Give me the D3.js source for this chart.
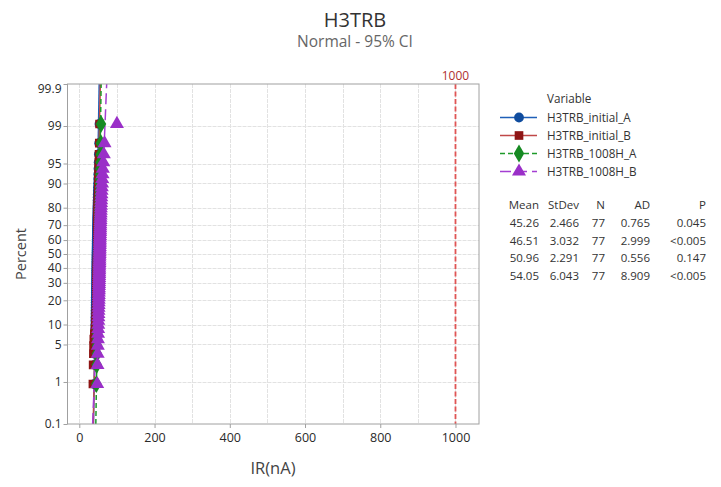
<!DOCTYPE html>
<html><head><meta charset="utf-8">
<script src="https://cdn.jsdelivr.net/npm/d3@7"></script>
<style>
body{margin:0;background:#fff;}
svg{display:block;font-family:"Open Sans","Noto Sans",sans-serif;}
</style></head>
<body><svg id="c" width="721" height="487"></svg>
<script>
const seriesNames = ["H3TRB_initial_A","H3TRB_initial_B","H3TRB_1008H_A","H3TRB_1008H_B"];
const initialA = [39.4,40.3,40.9,41.3,41.6,41.9,42.1,42.4,42.6,42.8,43.0,43.1,43.3,43.4,43.6,43.7,43.8,43.9,44.0,44.2,44.3,44.4,44.5,44.5,44.6,44.7,44.8,44.9,45.0,45.0,45.1,45.2,45.3,45.3,45.4,45.5,45.5,45.6,45.7,45.8,45.8,45.9,46.0,46.1,46.2,46.2,46.3,46.4,46.5,46.6,46.7,46.8,46.9,47.0,47.1,47.2,47.3,47.4,47.6,47.7,47.9,48.0,48.2,48.4,48.6,48.8,49.0,49.2,49.5,49.8,50.1,50.5,50.9,51.4,52.0,52.8,53.6];
const initialB = [36.2,36.8,37.4,37.9,38.6,40.1,41.8,43.0,43.6,44.1,44.4,44.7,45.0,45.2,45.4,45.6,45.8,46.0,46.1,46.3,46.4,46.5,46.6,46.7,46.8,46.9,47.0,47.0,47.1,47.2,47.3,47.3,47.4,47.5,47.5,47.6,47.7,47.7,47.8,47.9,47.9,48.0,48.0,48.1,48.2,48.2,48.3,48.4,48.4,48.5,48.6,48.6,48.7,48.8,48.9,49.0,49.0,49.1,49.2,49.3,49.4,49.5,49.6,49.7,49.9,50.0,50.2,50.4,50.6,50.8,51.0,51.3,51.6,52.0,52.5,53.1,53.9];
const h1008A = [45.3,46.2,46.8,47.2,47.5,47.8,48.0,48.3,48.5,48.7,48.9,49.0,49.2,49.3,49.5,49.6,49.7,49.8,49.9,50.0,50.1,50.2,50.3,50.3,50.4,50.5,50.6,50.7,50.7,50.8,50.9,51.0,51.0,51.1,51.2,51.2,51.3,51.4,51.5,51.5,51.6,51.7,51.8,51.8,51.9,52.0,52.1,52.2,52.3,52.4,52.5,52.6,52.7,52.8,52.9,53.0,53.1,53.2,53.3,53.4,53.5,53.6,53.8,53.9,54.1,54.3,54.5,54.7,54.9,55.1,55.4,55.7,56.0,56.4,56.8,57.2,57.7];
const h1008B = [47.6,48.3,48.8,49.2,49.5,49.8,50.1,50.3,50.5,50.7,50.9,51.1,51.2,51.4,51.5,51.7,51.8,51.9,52.0,52.2,52.3,52.4,52.5,52.6,52.7,52.8,52.9,53.0,53.1,53.2,53.3,53.4,53.5,53.6,53.7,53.8,53.9,54.0,54.1,54.2,54.3,54.4,54.5,54.6,54.7,54.8,54.9,55.0,55.2,55.3,55.4,55.5,55.7,55.8,56.0,56.1,56.3,56.5,56.7,56.9,57.1,57.3,57.6,57.9,58.2,58.5,58.9,59.3,59.8,60.4,61.0,61.8,62.7,63.8,65.2,67.0,100.0];
const means = [45.26,46.51,50.96,54.05];
const stdevs = [2.466,3.032,2.291,6.043];
const ns = [77,77,77,77];
const ads = ["0.765","2.999","0.556","8.909"];
const ps = ["0.045","<0.005","0.147","<0.005"];
const percentTicks = [0.1,1,5,10,20,30,40,50,60,70,80,90,95,99,99.9];
const xTicks = [0,200,400,600,800,1000];
const xGrid = [0,100,200,300,400,500,600,700,800,900,1000];
const refLine = 1000;

const colors = [
  {line:"#1f5fb8", mark:"#0f4c9e"},
  {line:"#c04848", mark:"#8e1414"},
  {line:"#1e9a2a", mark:"#168a22"},
  {line:"#a43ed2", mark:"#9a2fc8"}
];
const dashes = [null, null, "5,3", "11,5"];
const shapes = [d3.symbolCircle, d3.symbolSquare, d3.symbolDiamond, d3.symbolTriangle];
const sizes = [75, 75, 95, 85];

// inverse normal CDF (Acklam)
function qnorm(p){
  const a=[-39.69683028665376,220.9460984245205,-275.9285104469687,138.3577518672690,-30.66479806614716,2.506628277459239];
  const b=[-54.47609879822406,161.5858368580409,-155.6989798598866,66.80131188771972,-13.28068155288572];
  const c=[-0.007784894002430293,-0.3223964580411365,-2.400758277161838,-2.549732539343734,4.374664141464968,2.938163982698783];
  const d=[0.007784695709041462,0.3224671290700398,2.445134137142996,3.754408661907416];
  const pl=0.02425, ph=1-pl; let q,r;
  if(p<pl){q=Math.sqrt(-2*Math.log(p));return (((((c[0]*q+c[1])*q+c[2])*q+c[3])*q+c[4])*q+c[5])/((((d[0]*q+d[1])*q+d[2])*q+d[3])*q+1);}
  if(p<=ph){q=p-0.5;r=q*q;return (((((a[0]*r+a[1])*r+a[2])*r+a[3])*r+a[4])*r+a[5])*q/(((((b[0]*r+b[1])*r+b[2])*r+b[3])*r+b[4])*r+1);}
  q=Math.sqrt(-2*Math.log(1-p));return -(((((c[0]*q+c[1])*q+c[2])*q+c[3])*q+c[4])*q+c[5])/((((d[0]*q+d[1])*q+d[2])*q+d[3])*q+1);
}

const svg = d3.select("#c");
const L=67.5, R=479, T=84, B=424;
const x = d3.scaleLinear().domain([-31.4, 1062.5]).range([L,R]);
const y = d3.scaleLinear().domain([qnorm(0.001), qnorm(0.999)]).range([B,T]);

// title
svg.append("text").attr("x",355).attr("y",27).attr("text-anchor","middle").attr("font-size",20).attr("fill","#333").text("H3TRB");
svg.append("text").attr("x",355).attr("y",47).attr("text-anchor","middle").attr("font-size",15.5).attr("fill","#666").text("Normal - 95% CI");

// grid
const g = svg.append("g");
g.selectAll(".vg").data(xGrid).join("line").attr("x1",d=>Math.round(x(d))+0.5).attr("x2",d=>Math.round(x(d))+0.5).attr("y1",T).attr("y2",B)
  .attr("stroke","#e2e2e2").attr("stroke-width",1).attr("stroke-dasharray","4,1");
g.selectAll(".hg").data(percentTicks.slice(1,-1)).join("line").attr("x1",L).attr("x2",R)
  .attr("y1",d=>Math.round(y(qnorm(d/100)))+0.5).attr("y2",d=>Math.round(y(qnorm(d/100)))+0.5)
  .attr("stroke","#e2e2e2").attr("stroke-width",1).attr("stroke-dasharray","4,1");

// reference line
svg.append("line").attr("x1",x(refLine)).attr("x2",x(refLine)).attr("y1",T).attr("y2",B)
  .attr("stroke","#e05555").attr("stroke-width",1.8).attr("stroke-dasharray","5,2.5");
svg.append("text").attr("x",x(refLine)).attr("y",80).attr("text-anchor","middle").attr("font-size",12).attr("fill","#b03030").text(String(refLine));

// clip
svg.append("clipPath").attr("id","clip").append("rect").attr("x",L).attr("y",T).attr("width",R-L).attr("height",B-T);
const plot = svg.append("g").attr("clip-path","url(#clip)");

const datasets = [initialA, initialB, h1008A, h1008B];
// fit lines
datasets.forEach((vals,i)=>{
  const pts=[0.001,0.999].map(p=>[x(means[i]+stdevs[i]*qnorm(p)), y(qnorm(p))]);
  plot.append("path").attr("d",d3.line()(pts)).attr("fill","none").attr("stroke",colors[i].line)
    .attr("stroke-width",1.5).attr("stroke-dasharray",dashes[i]);
});
// points
datasets.forEach((vals,i)=>{
  const s = vals.slice().sort((a,b)=>a-b); const n=s.length;
  plot.selectAll(".p"+i).data(s).join("path")
    .attr("d",d3.symbol().type(shapes[i]).size(sizes[i]))
    .attr("transform",(d,k)=>`translate(${x(d)},${y(qnorm((k+1-0.3)/(n+0.4)))})`)
    .attr("fill",colors[i].mark);
});

// frame
svg.append("rect").attr("x",L).attr("y",T).attr("width",R-L).attr("height",B-T).attr("fill","none").attr("stroke","#a0a0a0").attr("stroke-width",1);

// axes
const ya = svg.append("g").attr("transform",`translate(${L},0)`)
  .call(d3.axisLeft(y).tickValues(percentTicks.map(p=>qnorm(p/100))).tickFormat((d,k)=>String(percentTicks[k])).tickSize(4).tickPadding(2));
const xa = svg.append("g").attr("transform",`translate(0,${B})`)
  .call(d3.axisBottom(x).tickValues(xTicks).tickFormat(d3.format("d")).tickSize(4).tickPadding(5));
[ya,xa].forEach(a=>{
  a.select(".domain").remove();
  a.selectAll("line").attr("stroke","#a0a0a0");
  a.selectAll("text").attr("fill","#2a2a2a").attr("font-family","'Open Sans',sans-serif");
});
xa.selectAll("text").attr("font-size",12.5);
ya.selectAll("text").attr("font-size",12);
ya.selectAll("text").filter((d,k)=>k===percentTicks.length-1).attr("dy","0.7em");

svg.append("text").attr("transform","translate(26,254) rotate(-90)").attr("text-anchor","middle").attr("font-size",14.5).attr("fill","#444").text("Percent");
svg.append("text").attr("x",273).attr("y",474).attr("text-anchor","middle").attr("font-size",16.5).attr("fill","#444").text("IR(nA)");

// legend
const lg = svg.append("g");
lg.append("text").attr("x",547).attr("y",103).attr("font-size",11.7).attr("fill","#333").text("Variable");
seriesNames.forEach((nm,i)=>{
  const yy = 117.5 + i*18;
  lg.append("line").attr("x1",500).attr("x2",537).attr("y1",yy).attr("y2",yy).attr("stroke",colors[i].line).attr("stroke-width",1.5).attr("stroke-dasharray",dashes[i]);
  lg.append("path").attr("d",d3.symbol().type(shapes[i]).size(sizes[i])).attr("transform",`translate(519,${yy})`).attr("fill",colors[i].mark);
  lg.append("text").attr("x",547).attr("y",yy+4.5).attr("font-size",11.7).attr("fill","#333").text(nm);
});

// stats table
const cols = [
  {h:"Mean", r:539, v:means.map(d=>d.toFixed(2))},
  {h:"StDev", r:579, v:stdevs.map(d=>d.toFixed(3))},
  {h:"N", r:605, v:ns.map(String)},
  {h:"AD", r:650, v:ads},
  {h:"P", r:706, v:ps}
];
cols.forEach(c=>{
  lg.append("text").attr("x",c.r).attr("y",209).attr("text-anchor","end").attr("font-size",11.5).attr("fill","#333").text(c.h);
  c.v.forEach((v,k)=>lg.append("text").attr("x",c.r).attr("y",227+k*17.7).attr("text-anchor","end").attr("font-size",11.5).attr("fill","#333").text(v));
});
</script></body></html>
